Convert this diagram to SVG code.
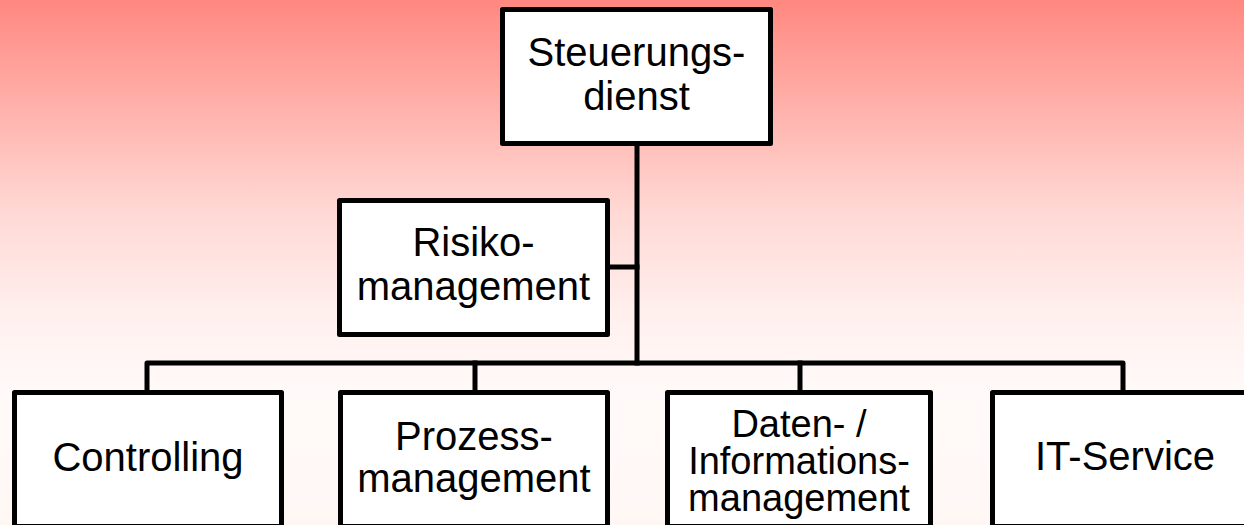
<svg xmlns="http://www.w3.org/2000/svg" width="1244" height="525" viewBox="0 0 1244 525">
  <defs>
    <linearGradient id="bg" x1="0" y1="0" x2="0" y2="1">
      <stop offset="0" stop-color="#FF8880"/>
      <stop offset="0.2" stop-color="#FFB0AA"/>
      <stop offset="0.4" stop-color="#FFD8D4"/>
      <stop offset="0.6" stop-color="#FFF0EE"/>
      <stop offset="0.75" stop-color="#FFFAF9"/>
      <stop offset="1" stop-color="#FFF7F4"/>
    </linearGradient>
  </defs>
  <style>
    .box { fill: #FFFFFF; stroke: #000000; stroke-width: 5; stroke-linejoin: round; }
    .conn { fill: none; stroke: #000000; stroke-width: 5; stroke-linejoin: round; stroke-linecap: square; }
    .lbl { font-family: "Liberation Sans", Arial, sans-serif; font-size: 40px; fill: #000000; text-anchor: middle; }
    .tight { font-size: 38px; }
  </style>
  <rect x="0" y="0" width="1244" height="525" fill="url(#bg)"/>

  <g id="connectors">
    <path class="conn" d="M637,146 V363"/>
    <path class="conn" d="M610,267 H637"/>
    <path class="conn" d="M147,390 V363 H1123 V390"/>
    <path class="conn" d="M475,363 V390"/>
    <path class="conn" d="M800,363 V390"/>
  </g>

  <g id="steuerungsdienst">
    <rect class="box" x="502.5" y="9.5" width="268" height="134"/>
    <text class="lbl" x="636.5" y="66">Steuerungs-</text>
    <text class="lbl" x="636.5" y="110">dienst</text>
  </g>

  <g id="risikomanagement">
    <rect class="box" x="339.5" y="200.5" width="268" height="134"/>
    <text class="lbl" x="473.5" y="256">Risiko-</text>
    <text class="lbl" x="473.5" y="300">management</text>
  </g>

  <g id="controlling">
    <rect class="box" x="14.5" y="392.5" width="267" height="134"/>
    <text class="lbl" x="148" y="471">Controlling</text>
  </g>

  <g id="prozessmanagement">
    <rect class="box" x="340.5" y="392.5" width="267" height="134"/>
    <text class="lbl" x="474" y="450">Prozess-</text>
    <text class="lbl" x="474" y="492">management</text>
  </g>

  <g id="datenmanagement">
    <rect class="box" x="667.5" y="392.5" width="263" height="134"/>
    <text class="lbl tight" x="799" y="437">Daten- /</text>
    <text class="lbl tight" x="799" y="474">Informations-</text>
    <text class="lbl tight" x="799" y="511">management</text>
  </g>

  <g id="itservice">
    <rect class="box" x="992.5" y="392.5" width="267" height="134"/>
    <text class="lbl" x="1125" y="470">IT-Service</text>
  </g>
</svg>
